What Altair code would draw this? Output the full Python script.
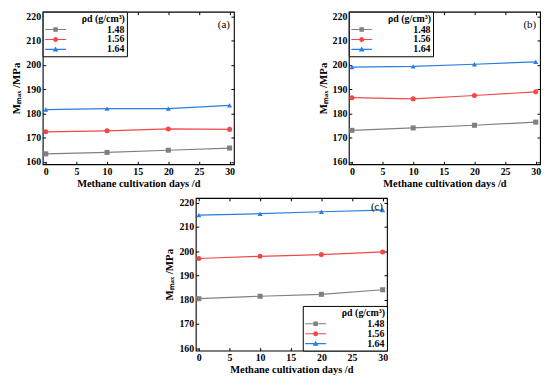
import altair as alt
import pandas as pd

days = [0, 10, 20, 30]
densities = ["1.48", "1.56", "1.64"]

a_148 = [163.3, 163.9, 164.8, 165.7]
a_156 = [172.4, 172.8, 173.6, 173.4]
a_164 = [181.6, 182.0, 182.0, 183.3]

b_148 = [173.0, 174.0, 175.1, 176.4]
b_156 = [186.5, 186.0, 187.4, 188.9]
b_164 = [199.1, 199.4, 200.3, 201.3]

c_148 = [180.4, 181.4, 182.2, 184.1]
c_156 = [197.0, 197.9, 198.6, 199.7]
c_164 = [214.9, 215.5, 216.3, 217.0]

x_ticks = [0, 5, 10, 15, 20, 25, 30]
y_ticks = [160, 170, 180, 190, 200, 210, 220]

colors = ["#808080", "#F24848", "#2A7DE1"]
shapes = ["square", "circle", "triangle-up"]
# legend symbols: line segment with marker in the middle
bar = "M-2.1,-0.11H2.1V0.11H-2.1Z "
legend_shapes = [
    bar + "M-0.45,-0.45H0.45V0.45H-0.45Z",
    bar + "M0.5,0A0.5,0.5 0 1,1 -0.5,0A0.5,0.5 0 1,1 0.5,0Z",
    bar + "M0,-0.58L0.58,0.42L-0.58,0.42Z",
]

FONT = "Liberation Serif"
W, H = 193, 154


def panel(s148, s156, s164, tag, legend_orient):
    df = pd.DataFrame({
        "day": days * 3,
        "M": s148 + s156 + s164,
        "rho": [d for d in densities for _ in days],
    })
    xs = alt.Scale(domain=[-0.5, 30.7], nice=False, zero=False)
    ys = alt.Scale(domain=[159, 222], nice=False, zero=False)
    cs = alt.Scale(domain=densities, range=colors)
    tick_common = dict(
        tickSize=3, tickColor="black", tickWidth=1, offset=-3, domain=False,
        grid=False, labelFont=FONT, labelFontSize=10, labelFontWeight="bold",
        labelColor="black", labelPadding=2,
    )
    base = alt.Chart(df)
    line = base.mark_line(strokeWidth=1.2).encode(
        x=alt.X("day:Q", scale=xs, axis=alt.Axis(
            orient="bottom", values=x_ticks, title="Methane cultivation days /d",
            titleFont=FONT, titleFontSize=10.5, titleFontWeight="bold",
            titleColor="black", titlePadding=2, **tick_common)),
        y=alt.Y("M:Q", scale=ys, axis=alt.Axis(
            orient="left", values=y_ticks, title="Mₘₐₓ /MPa",
            titleFont=FONT, titleFontSize=11, titleFontWeight="bold",
            titleColor="black", titlePadding=4, **tick_common)),
        color=alt.Color("rho:N", scale=cs, legend=None),
    )
    pts = base.mark_point(filled=True, size=26, opacity=1).encode(
        x=alt.X("day:Q", scale=xs, axis=None),
        y=alt.Y("M:Q", scale=ys, axis=None),
        color=alt.Color("rho:N", scale=cs, legend=None),
        shape=alt.Shape("rho:N", scale=alt.Scale(domain=densities, range=shapes), legend=None),
    )
    leg_props = dict(
        title="ρd (g/cm³)", orient=legend_orient, offset=0, padding=2,
        strokeColor="black", fillColor="white", cornerRadius=0,
        symbolSize=100, symbolStrokeWidth=0, symbolOffset=6, symbolOpacity=1,
        labelOffset=47, labelFont=FONT, labelFontSize=10, labelFontWeight="bold",
        labelColor="black",
        labelExpr="datum.label + '" + "\u00a0" * 2 + "'",
        titleFont=FONT, titleFontSize=10, titleFontWeight="bold", titleColor="black",
        titleAnchor="end", titleAlign="right", titlePadding=1, rowPadding=0,
    )
    mirror = dict(tickSize=3, tickColor="black", offset=-3, domain=False,
                  grid=False, labels=False, title=None)
    leg = base.mark_point(filled=True, opacity=0).encode(
        x=alt.X("day:Q", scale=xs, axis=alt.Axis(orient="top", values=x_ticks, **mirror)),
        y=alt.Y("M:Q", scale=ys, axis=alt.Axis(orient="right", values=y_ticks, **mirror)),
        color=alt.Color("rho:N", scale=cs, legend=alt.Legend(**leg_props)),
        shape=alt.Shape("rho:N", scale=alt.Scale(domain=densities, range=legend_shapes),
                        legend=alt.Legend(**leg_props)),
    )
    label = alt.Chart(pd.DataFrame({"t": [tag]})).mark_text(
        font=FONT, fontSize=11, color="black", align="right", baseline="middle"
    ).encode(text="t:N", x=alt.value(W - 4), y=alt.value(13 if tag != "(c)" else 9))
    return alt.layer(line, pts, leg, label).resolve_scale(
        color="independent", shape="independent"
    ).resolve_axis(x="independent", y="independent").properties(width=W, height=H)


pa = panel(a_148, a_156, a_164, "(a)", "top-left")
pb = panel(b_148, b_156, b_164, "(b)", "top-left")
pc = panel(c_148, c_156, c_164, "(c)", "bottom-right")

chart = alt.vconcat(
    alt.hconcat(pa, pb, spacing=81),
    pc,
    spacing=6,
    center=True,
).properties(padding={"left": 2, "top": 0, "right": 0, "bottom": 0}).configure_view(
    stroke="black", strokeWidth=1.1
)

chart.save("out.html", embed_options={"renderer": "svg", "actions": False})
